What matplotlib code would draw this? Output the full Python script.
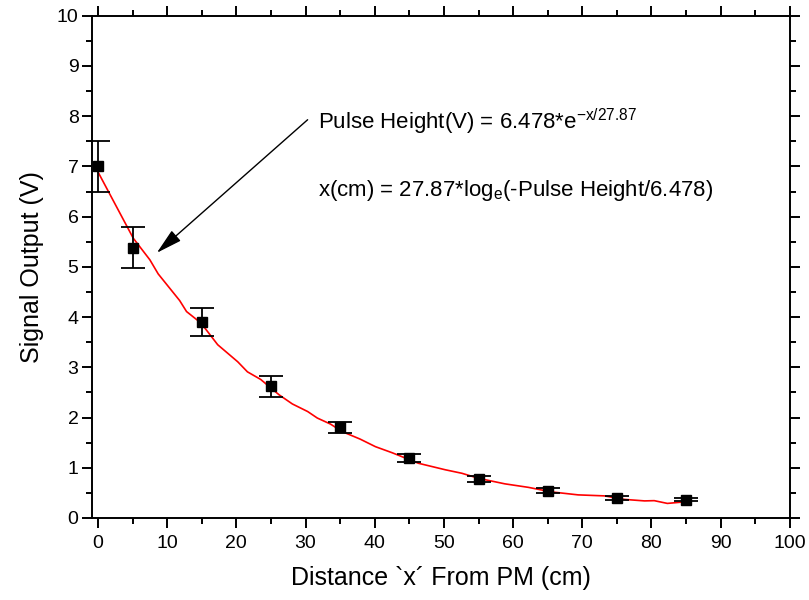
import matplotlib
matplotlib.use('Agg')
import matplotlib.pyplot as plt
from matplotlib.ticker import MultipleLocator

plt.rcParams['font.family'] = ['Liberation Sans', 'DejaVu Sans']
plt.rcParams['mathtext.default'] = 'regular'

# Measured points with error bars
distance = [0, 5, 15, 25, 35, 45, 55, 65, 75, 85]
signal = [7.0, 5.38, 3.90, 2.62, 1.81, 1.19, 0.78, 0.54, 0.39, 0.36]
signal_err = [0.50, 0.41, 0.28, 0.21, 0.11, 0.08, 0.06, 0.05, 0.04, 0.03]

# Fitted curve
fit_x = [0, 5.1, 7.5, 8.7, 11.8, 12.8, 14.9, 17.3, 20.2, 21.6, 23.5, 26.2,
         28.1, 30.3, 31.7, 33.6, 35.3, 37.9, 40.1, 42.5, 46.3, 50.2, 52.6,
         55, 58.8, 62.2, 65.5, 69.4, 73.2, 76.1, 79, 80.4, 82.3, 84.7]
fit_y = [6.89, 5.57, 5.14, 4.86, 4.33, 4.11, 3.88, 3.45, 3.11, 2.91, 2.76, 2.45,
         2.27, 2.12, 1.99, 1.87, 1.72, 1.57, 1.42, 1.30, 1.09, 0.96, 0.89,
         0.79, 0.68, 0.61, 0.52, 0.46, 0.44, 0.37, 0.34, 0.345, 0.29, 0.32]

fig = plt.figure(figsize=(8.09, 6), dpi=100)
ax = fig.add_axes([0.1143, 0.1367, 0.862, 0.837])

ax.plot(fit_x, fit_y, color='red', lw=1.2, zorder=3)
ax.errorbar(distance, signal, yerr=signal_err, fmt='s', color='black',
            ms=7, capsize=8.5, elinewidth=1.3, capthick=1.3, zorder=4)

ax.set_xlim(-0.8, 100)
ax.set_ylim(0, 10)
ax.xaxis.set_major_locator(MultipleLocator(10))
ax.xaxis.set_minor_locator(MultipleLocator(5))
ax.yaxis.set_major_locator(MultipleLocator(1))
ax.yaxis.set_minor_locator(MultipleLocator(0.5))
ax.tick_params(which='both', direction='out', top=True, right=True,
               width=1.4, labelsize=14)
ax.tick_params(axis='x', pad=5)
ax.tick_params(axis='y', pad=3)
ax.tick_params(which='major', length=7)
ax.tick_params(which='minor', length=4)
for s in ax.spines.values():
    s.set_linewidth(1.4)

ax.set_xlabel('Distance `x\u00b4 From PM (cm)', fontsize=18, labelpad=10)
ax.set_ylabel('Signal Output (V)', fontsize=18, labelpad=9)

# Arrow pointing from the formula to the fitted curve
ax.annotate('', xy=(8.5, 5.28), xytext=(30.3, 7.93),
            arrowprops=dict(arrowstyle='-|>,head_length=1.15,head_width=0.3',
                            color='black', lw=1.0,
                            mutation_scale=14, shrinkA=0, shrinkB=0))
ax.text(31.8, 7.89, r'Pulse Height(V) = 6.478*e$^{-x/27.87}$',
        fontsize=16, va='center', ha='left')
ax.text(31.8, 6.53, r'x(cm) = 27.87*log$_{e}$(-Pulse Height/6.478)',
        fontsize=16, va='center', ha='left')

fig.savefig('out.png', dpi=100)
